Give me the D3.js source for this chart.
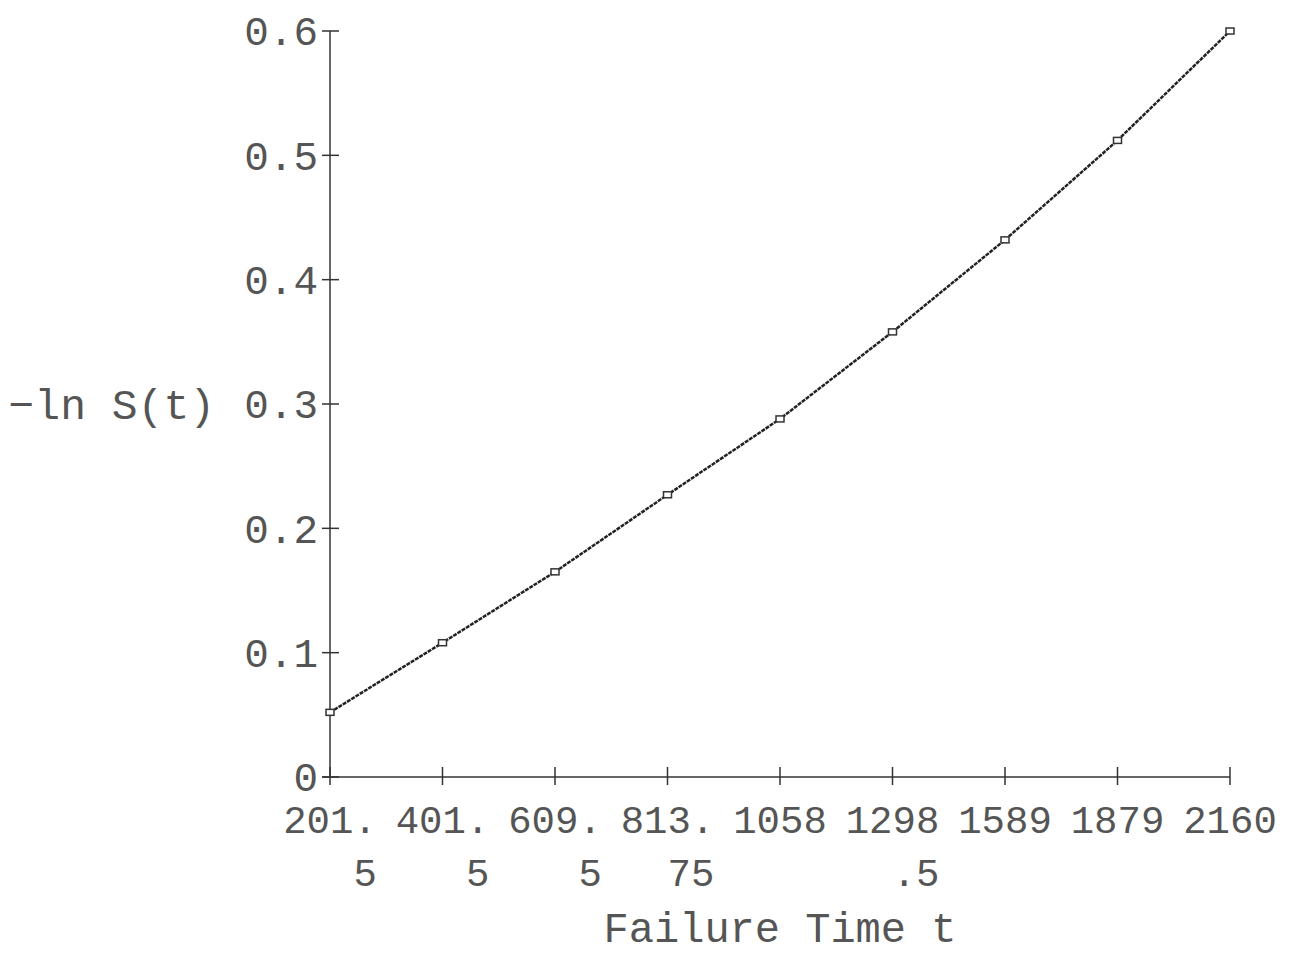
<!DOCTYPE html>
<html>
<head>
  <script src="https://d3js.org/d3.v7.min.js"></script>
  <style>
    body { margin: 0; background: #fff; }
    text { font-family: "Liberation Mono", "DejaVu Sans Mono", monospace; fill: #555; }
  </style>
</head>
<body>
  <svg id="chart" width="1290" height="959"></svg>
  <script>

  // failure times (tick categories) and -ln S(t) values
  var times = ["201.5", "401.5", "609.5", "813.75", "1058", "1298.5", "1589", "1879", "2160"];
  var lnS = [0.052, 0.108, 0.165, 0.227, 0.288, 0.358, 0.432, 0.512, 0.600];
  var yTicks = [0, 0.1, 0.2, 0.3, 0.4, 0.5, 0.6];

  var svg = d3.select("#chart"),
      x0 = 330, x1 = 1230,
      yBottom = 777, yTop = 31;

  var x = d3.scalePoint()
    .domain(times)
    .range([x0, x1]);

  var y = d3.scaleLinear()
    .domain([0, 0.6])
    .range([yBottom, yTop]);

  var data = times.map(function(t, i) { return {t: t, v: lnS[i]}; });

  // axes drawn as plain lines, old plotter style
  svg.append("line")
    .attr("x1", x0).attr("x2", x0)
    .attr("y1", y(0.6)).attr("y2", y(0))
    .attr("stroke", "#333").attr("stroke-width", 1.5);

  svg.append("line")
    .attr("x1", x0 - 8).attr("x2", x1)
    .attr("y1", y(0)).attr("y2", y(0))
    .attr("stroke", "#333").attr("stroke-width", 1.5);

  // y ticks
  svg.selectAll(".ytick")
    .data(yTicks)
    .enter().append("line")
    .attr("class", "ytick")
    .attr("x1", x0 - 8).attr("x2", x0 + 9)
    .attr("y1", function(d) { return y(d); })
    .attr("y2", function(d) { return y(d); })
    .attr("stroke", "#333").attr("stroke-width", 1.5);

  svg.selectAll(".ylab")
    .data(yTicks)
    .enter().append("text")
    .attr("class", "ylab")
    .attr("x", x0 - 12)
    .attr("y", function(d) { return y(d); })
    .attr("dy", "0.35em")
    .attr("text-anchor", "end")
    .style("font-size", "41px")
    .text(function(d) { return d === 0 ? "0" : d3.format(".1f")(d); });

  // x ticks
  svg.selectAll(".xtick")
    .data(times)
    .enter().append("line")
    .attr("class", "xtick")
    .attr("x1", function(d) { return x(d); })
    .attr("x2", function(d) { return x(d); })
    .attr("y1", y(0) - 10).attr("y2", y(0) + 8)
    .attr("stroke", "#333").attr("stroke-width", 1.5);

  // labels wrap at 4 characters, remainder right aligned underneath
  var charW = 0.6 * 39;
  var xl = svg.selectAll(".xlab")
    .data(times)
    .enter().append("g")
    .attr("class", "xlab")
    .attr("transform", function(d) { return "translate(" + x(d) + ",0)"; });

  xl.append("text")
    .attr("y", 833)
    .attr("text-anchor", "middle")
    .style("font-size", "39px")
    .text(function(d) { return d.slice(0, 4); });

  xl.append("text")
    .attr("x", 2 * charW)
    .attr("y", 886)
    .attr("text-anchor", "end")
    .style("font-size", "39px")
    .text(function(d) { return d.slice(4); });

  // curve
  var line = d3.line()
    .x(function(d) { return x(d.t); })
    .y(function(d) { return y(d.v); });

  svg.append("path")
    .datum(data)
    .attr("fill", "none")
    .attr("stroke", "#222")
    .attr("stroke-width", 2.5)
    .attr("stroke-dasharray", "4,1")
    .attr("d", line);

  svg.selectAll(".pt")
    .data(data)
    .enter().append("rect")
    .attr("class", "pt")
    .attr("x", function(d) { return x(d.t) - 4; })
    .attr("y", function(d) { return y(d.v) - 3; })
    .attr("width", 8)
    .attr("height", 6)
    .attr("fill", "#fff")
    .attr("stroke", "#333")
    .attr("stroke-width", 1.5);

  // axis titles
  svg.append("text")
    .attr("x", 215)
    .attr("y", y(0.3))
    .attr("dy", "0.35em")
    .attr("text-anchor", "end")
    .style("font-size", "43px")
    .text("\u2212ln S(t)");

  svg.append("text")
    .attr("x", 780)
    .attr("y", 942)
    .attr("text-anchor", "middle")
    .style("font-size", "42px")
    .text("Failure Time t");

  </script>
</body>
</html>
